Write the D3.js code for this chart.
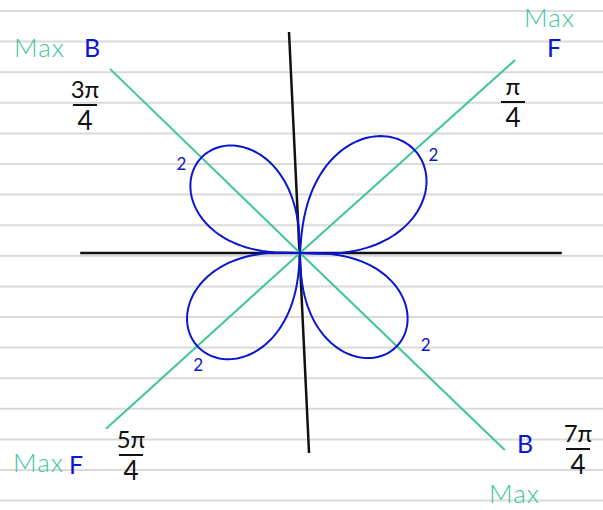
<!DOCTYPE html>
<html>
<head>
<meta charset="utf-8">
<script src="https://cdn.jsdelivr.net/npm/d3@7"></script>
<style>
  body { margin: 0; background: #fff; }
  text { font-family: Lato, "Open Sans", sans-serif; font-weight: 300; }
</style>
</head>
<body>
<svg width="603" height="510"></svg>
<script>
// rose petals: axis angle (deg), peak radius (units), label
const petalAngles = [41.4, 135.9, 222.2, 316.1];
const petalPeaks = [2.2, 1.96, 1.98, 1.92];
const petalLabels = ["2", "2", "2", "2"];

// green guide rays through the petal tips
const guideAngles = [41.9, 135.9, 222.2, 316.1];
const guideLengths = [4.13, 3.78, 3.74, 4.06];

// angle names and the max/direction notes
const angleNumerators = ["π", "3π", "5π", "7π"];
const angleDenominators = ["4", "4", "4", "4"];
const maxNotes = ["F", "B", "F", "B"];

// axes ends (units)
const xAxisEnds = [[-3.14, 0], [3.74, 0]];
const yAxisEnds = [[-0.157, 3.157], [0.129, -2.857]];

const svg = d3.select("svg");
const width = +svg.attr("width");
const height = +svg.attr("height");

const blue = "#0b16cf", green = "#3ec59c", ink = "#111";

const x = d3.scaleLinear().domain([-1, 1]).range([230, 370]);
const y = d3.scaleLinear().domain([-1, 1]).range([323, 183]);
const rad = d => d * Math.PI / 180;
const polar = (r, a) => [x(r * Math.cos(rad(a))), y(r * Math.sin(rad(a)))];

// notebook rules
svg.append("g").selectAll("line")
  .data(d3.range(11, height, 30.6))
  .enter().append("line")
    .attr("x1", 0).attr("x2", width)
    .attr("y1", d => d).attr("y2", d => d)
    .attr("stroke", "#dadada").attr("stroke-width", 2);

// axes
const line = d3.line();
svg.append("path").attr("d", line(xAxisEnds.map(p => [x(p[0]), y(p[1])])))
  .attr("stroke", ink).attr("stroke-width", 2.5).attr("fill", "none");
svg.append("path").attr("d", line(yAxisEnds.map(p => [x(p[0]), y(p[1])])))
  .attr("stroke", ink).attr("stroke-width", 2.5).attr("fill", "none");

// guide rays
svg.append("g").selectAll("path")
  .data(guideAngles)
  .enter().append("path")
    .attr("d", (a, i) => line([polar(0, a), polar(guideLengths[i], a)]))
    .attr("stroke", green).attr("stroke-width", 2).attr("fill", "none");

// petals, hand drawn a bit fuller than peak * cos(2psi)
svg.append("g").selectAll("path")
  .data(petalAngles)
  .enter().append("path")
    .attr("d", (a, i) => line(d3.range(-45, 45.5, 1)
      .map(p => polar(petalPeaks[i] * Math.pow(Math.cos(rad(2 * p)), 0.65), a + p))))
    .attr("stroke", blue).attr("stroke-width", 2).attr("fill", "none");

// "2" labels beside the petal tips
const tipOffsets = [[13, 10], [-25, 12], [-4, 25], [24, 5]];
svg.append("g").selectAll("text")
  .data(petalLabels)
  .enter().append("text")
    .attr("x", (d, i) => polar(petalPeaks[i], petalAngles[i])[0] + tipOffsets[i][0])
    .attr("y", (d, i) => polar(petalPeaks[i], petalAngles[i])[1] + tipOffsets[i][1])
    .attr("fill", blue).attr("font-size", 17).style("font-weight", 400)
    .text(d => d);

// angle fractions
const fracPos = [[513, 95], [85, 98], [131, 448], [578, 442]];
const frac = svg.append("g").selectAll("g")
  .data(angleNumerators)
  .enter().append("g")
    .attr("transform", (d, i) => `translate(${fracPos[i]})`);
frac.append("text").attr("text-anchor", "middle").attr("font-size", 24)
  .style("font-weight", 400).attr("fill", ink).text(d => d);
frac.append("line").attr("x1", -12).attr("x2", 12).attr("y1", 7).attr("y2", 7)
  .attr("stroke", ink).attr("stroke-width", 2);
frac.append("text").attr("text-anchor", "middle").attr("font-size", 26)
  .style("font-weight", 400).attr("y", 32).attr("fill", ink)
  .text((d, i) => angleDenominators[i]);

// Max notes
const maxPos = [[524, 27], [14, 57], [13, 472], [489, 503]];
const notePos = [[547, 57], [84, 57], [69, 474], [517, 453]];
svg.append("g").selectAll("text")
  .data(maxNotes)
  .enter().append("text")
    .attr("x", (d, i) => maxPos[i][0]).attr("y", (d, i) => maxPos[i][1])
    .attr("fill", green).attr("font-size", 26).attr("letter-spacing", 1)
    .text("Max");
svg.append("g").selectAll("text")
  .data(maxNotes)
  .enter().append("text")
    .attr("x", (d, i) => notePos[i][0]).attr("y", (d, i) => notePos[i][1])
    .attr("fill", blue).attr("font-size", 25).style("font-weight", 400)
    .text(d => d);
</script>
</body>
</html>
